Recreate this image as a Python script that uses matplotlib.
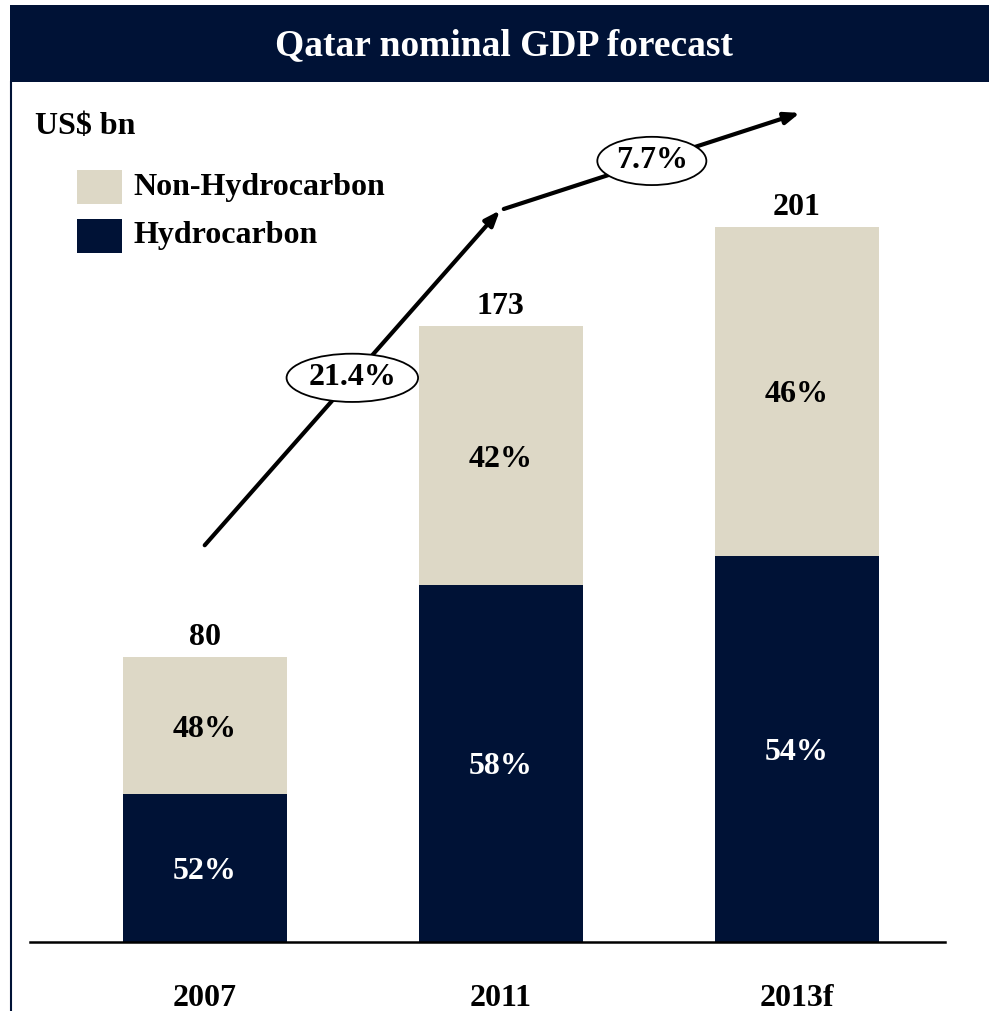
import numpy as np
import matplotlib.pyplot as plt
from matplotlib.patches import Rectangle
from matplotlib.lines import Line2D

# GDP data, US$ bn
years = ['2007', '2011', '2013f']
totals = [80, 173, 201]
hydro_share = [52, 58, 54]
non_hydro_share = [48, 42, 46]
growth = ['21.4%', '7.7%']

navy = '#001236'
beige = '#ddd8c6'
fs = 23

plt.rcParams['font.family'] = ['Liberation Serif', 'DejaVu Serif']
plt.rcParams['font.weight'] = 'bold'

fig = plt.figure(figsize=(9.89, 10.11), dpi=100)

# title band and left border
fig.patches.append(Rectangle((10/989, 1 - 82/1011), 1, 77/1011, transform=fig.transFigure,
                             facecolor=navy, edgecolor='none'))
fig.text(0.51, 1 - 46/1011, 'Qatar nominal GDP forecast', color='white', fontsize=27,
         ha='center', va='center', fontweight='bold')
fig.lines.append(Line2D([11/989, 11/989], [0, 1 - 82/1011], transform=fig.transFigure,
                        color=navy, lw=1.5))

ax = fig.add_axes([30/989, 69/1011, 915/989, 854/1011])
x = np.arange(len(years))
totals = np.array(totals)
hydro = totals * np.array(hydro_share) / 100
non_hydro = totals - hydro

w = 0.555
ax.bar(x, hydro, w, color=navy)
ax.bar(x, non_hydro, w, bottom=hydro, color=beige)

for i in range(len(x)):
    ax.text(x[i], totals[i] + 5.5, str(totals[i]), ha='center', va='center', fontsize=fs)
    ax.text(x[i], hydro[i] / 2, f'{hydro_share[i]}%', ha='center', va='center_baseline',
            fontsize=fs, color='white')
    ax.text(x[i], hydro[i] + non_hydro[i] / 2, f'{non_hydro_share[i]}%', ha='center',
            va='center_baseline', fontsize=fs, color='black')

# growth arrows
seg1 = [(0.0, 111.5), (0.997, 205.6)]
seg2 = [(1.01, 206), (2.01, 233)]
for (a, b), g in zip([seg1, seg2], growth):
    ax.annotate('', xy=b, xytext=a,
                arrowprops=dict(arrowstyle='-|>,head_length=0.9,head_width=0.35',
                                lw=3, color='black', shrinkA=0, shrinkB=0))
    mx, my = (a[0] + b[0]) / 2, (a[1] + b[1]) / 2
    ax.text(mx, my, g, ha='center', va='center', fontsize=fs,
            bbox=dict(boxstyle='ellipse,pad=0.08', fc='white', ec='black', lw=1.3))

ax.set_xlim(-0.59, 2.5)
ax.set_ylim(0, 240)
ax.set_xticks(x)
ax.set_xticklabels(years, fontsize=fs)
ax.tick_params(axis='x', length=0, pad=30)
ax.set_yticks([])
for s in ['top', 'right', 'left']:
    ax.spines[s].set_visible(False)
ax.spines['bottom'].set_linewidth(1.8)

# unit label and legend
fig.text(35/989, 1 - 127/1011, 'US$ bn', fontsize=fs, va='center', ha='left')
for j, (lab, col) in enumerate([('Non-Hydrocarbon', beige), ('Hydrocarbon', navy)]):
    yc = 187 + j * 49
    fig.patches.append(Rectangle((77/989, 1 - (yc + 17)/1011), 45/989, 34/1011,
                                 transform=fig.transFigure, facecolor=col, edgecolor='none'))
    fig.text(133/989, 1 - yc/1011, lab, fontsize=fs, va='center', ha='left')

fig.savefig('out.png', dpi=100)
